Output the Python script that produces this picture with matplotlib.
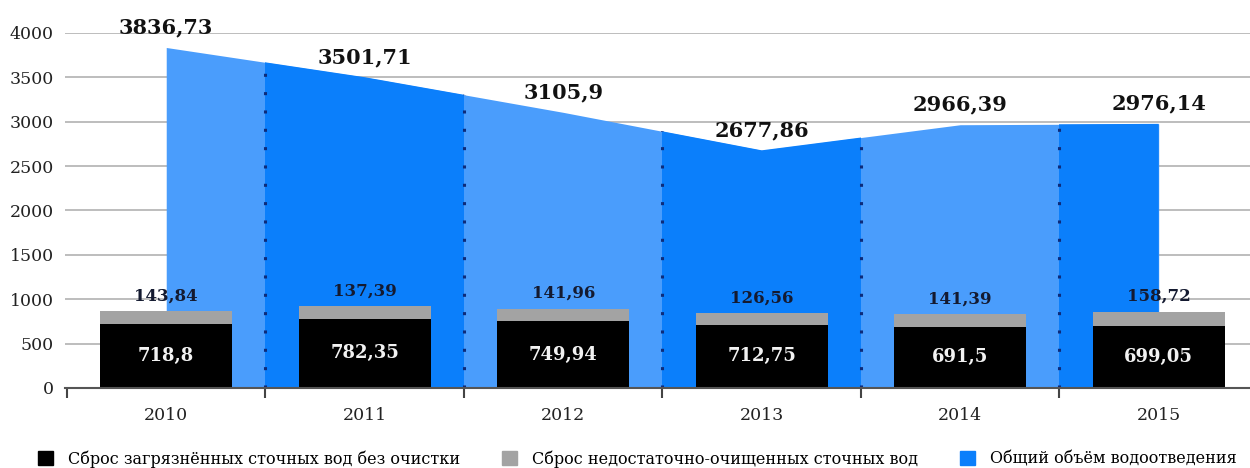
import numpy as np
import matplotlib
matplotlib.use('Agg')
import matplotlib.pyplot as plt
from matplotlib.patches import Patch

years = ['2010', '2011', '2012', '2013', '2014', '2015']
total = [3836.73, 3501.71, 3105.9, 2677.86, 2966.39, 2976.14]       # общий объём
untreated = [718.8, 782.35, 749.94, 712.75, 691.5, 699.05]          # без очистки
partly = [143.84, 137.39, 141.96, 126.56, 141.39, 158.72]           # недостаточно очищенные

def fmt(v):
    return ('%g' % v).replace('.', ',')

light = '#4a9dfc'
dark = '#0b7ffb'

plt.rcParams['font.family'] = ['DejaVu Serif']
fig = plt.figure(figsize=(12.5, 4.68), dpi=100)
ax = fig.add_axes([0.052, 0.171, 0.948, 0.7585])

x = np.arange(len(years))

# area, light first then dark bands clipped to it
area = ax.fill_between(x, 0, total, color=light, lw=0, zorder=2)
clip = area.get_paths()[0]
for k in range(len(years)):
    if k % 2 == 1:
        band = ax.axvspan(k - 0.5, k + 0.5, color=dark, lw=0, zorder=2.1)
        band.set_clip_path(clip, ax.transData)
for k in range(len(years) - 1):
    ln = ax.axvline(k + 0.5, color='#0d2b7a', lw=2.2, ls=(0, (1, 5)), zorder=2.2)
    ln.set_clip_path(clip, ax.transData)

# bars
w = 0.665
ax.bar(x, untreated, w, color='black', zorder=3)
ax.bar(x, partly, w, bottom=untreated, color='#a3a3a3', zorder=3)

for i in range(len(years)):
    ax.text(x[i], untreated[i] / 2, fmt(untreated[i]), ha='center', va='center',
            color='#f2f2f2', fontsize=13, fontweight='bold', zorder=4)
    ax.annotate(fmt(partly[i]), (x[i], untreated[i] + partly[i]), xytext=(0, 11),
                textcoords='offset points', ha='center', va='center',
                color='#141a30', fontsize=12, fontweight='bold', zorder=4)
    ax.annotate(fmt(total[i]), (x[i], total[i]), xytext=(0, 14.5),
                textcoords='offset points', ha='center', va='center',
                color='#111111', fontsize=15, fontweight='bold', zorder=4,
                annotation_clip=False)

ax.set_xlim(-0.51, 5.46)
ax.set_ylim(0, 4000)
ax.set_yticks(np.arange(0, 4001, 500))
ax.yaxis.grid(True, color='#b8b8b8', lw=1.3, zorder=1)
ax.set_axisbelow(True)
ax.tick_params(axis='y', length=0, pad=8, labelsize=12.5, labelcolor='#222222')

ax.set_xticks(np.arange(-0.5, 5, 1))
ax.set_xticklabels([])
ax.set_xticks(x, minor=True)
ax.set_xticklabels(years, minor=True)
ax.tick_params(axis='x', which='major', length=7, width=1.5, color='#444444', direction='out')
ax.tick_params(axis='x', which='minor', length=0, pad=14, labelsize=12.5, labelcolor='#222222')

for s in ['top', 'right', 'left']:
    ax.spines[s].set_visible(False)
ax.spines['bottom'].set_color('#555555')
ax.spines['bottom'].set_linewidth(1.5)
ax.spines['bottom'].set_zorder(5)

handles = [Patch(color='black'), Patch(color='#a3a3a3'), Patch(color=dark)]
labels = ['Сброс загрязнённых сточных вод без очистки',
          'Сброс недостаточно-очищенных сточных вод',
          'Общий объём водоотведения']
fig.legend(handles, labels, loc='lower center', bbox_to_anchor=(0.51, -0.03), ncol=3,
           frameon=False, fontsize=11.5, handlelength=0.95, handleheight=0.95,
           handletextpad=0.95, columnspacing=2.6)

fig.savefig('out.png', dpi=100)
